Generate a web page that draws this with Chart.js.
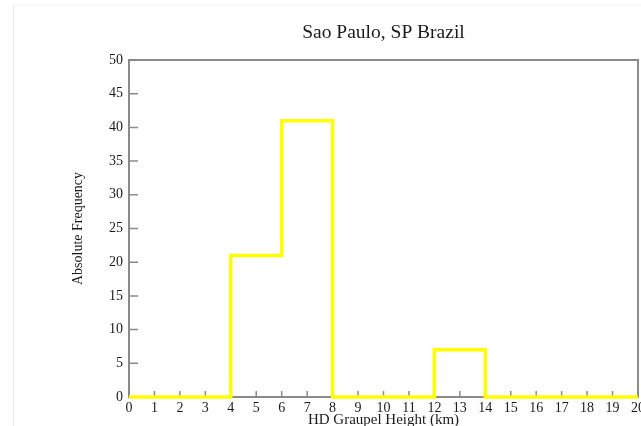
<!DOCTYPE html>
<html>
<head>
<meta charset="utf-8">
<script src="https://cdn.jsdelivr.net/npm/chart.js@4"></script>
<style>
  html, body { margin: 0; padding: 0; background: #fff; }
  #wrap { width: 641px; height: 426px; }
</style>
</head>
<body>
<div id="wrap"><canvas id="hist"></canvas></div>
<script>
// histogram data, bins are 2 km wide
const binEdges = [0, 2, 4, 6, 8, 10, 12, 14, 16, 18, 20]
const counts = [0, 0, 21, 41, 0, 0, 7, 0, 0, 0]
const yTicks = [0, 5, 10, 15, 20, 25, 30, 35, 40, 45, 50]

const chartTitle = 'Sao Paulo, SP Brazil'
const xTitle = 'HD Graupel Height (km)'
const yTitle = 'Absolute Frequency'

const serif = 'Liberation Serif'
const axisGrey = '#8a8a8a'

// step points: each bin starts at its left edge, last one closes at 20
let stepPoints = counts.map((c, i) => ({ x: binEdges[i], y: c }))
stepPoints.push({ x: binEdges[binEdges.length - 1], y: counts[counts.length - 1] })

const framePlugin = {
  id: 'frame',
  beforeDraw(chart) {
    const ctx = chart.ctx
    // faint page edge on the left
    ctx.save()
    ctx.strokeStyle = '#e8e8e8'
    ctx.lineWidth = 1
    ctx.beginPath()
    ctx.moveTo(13.5, 5)
    ctx.lineTo(13.5, 426)
    ctx.stroke()
    ctx.strokeStyle = '#f4f4f4'
    ctx.beginPath()
    ctx.moveTo(14, 4.5)
    ctx.lineTo(641, 4.5)
    ctx.stroke()
    ctx.restore()
  },
  beforeDatasetsDraw(chart) {
    const ctx = chart.ctx
    const a = chart.chartArea
    const xs = chart.scales.x
    const ys = chart.scales.y
    ctx.save()
    ctx.strokeStyle = axisGrey
    ctx.lineWidth = 2
    ctx.strokeRect(a.left, a.top, a.right - a.left, a.bottom - a.top)
    ctx.lineWidth = 1.5
    ctx.beginPath()
    // inward ticks
    xs.ticks.forEach(t => {
      const px = xs.getPixelForValue(t.value)
      ctx.moveTo(px, a.bottom)
      ctx.lineTo(px, a.bottom - 6)
    })
    ys.ticks.forEach(t => {
      const py = ys.getPixelForValue(t.value)
      ctx.moveTo(a.left, py)
      ctx.lineTo(a.left + 9, py)
    })
    ctx.stroke()
    ctx.restore()
  },
  afterDraw(chart) {
    const ctx = chart.ctx
    const a = chart.chartArea
    ctx.save()
    ctx.fillStyle = '#1a1a1a'
    ctx.font = '19.5px "' + serif + '"'
    ctx.textAlign = 'center'
    ctx.textBaseline = 'middle'
    ctx.fillText(chartTitle, (a.left + a.right) / 2, 33)
    ctx.restore()
  }
}

new Chart(document.getElementById('hist'), {
  type: 'line',
  data: {
    datasets: [{
      data: stepPoints,
      stepped: 'before',
      borderColor: '#ffff00',
      borderWidth: 3.5,
      pointRadius: 0,
      fill: false,
      clip: false
    }]
  },
  options: {
    responsive: true,
    maintainAspectRatio: false,
    animation: false,
    layout: { padding: { top: 60, right: 3, left: 0, bottom: 0 } },
    plugins: {
      legend: { display: false },
      tooltip: { enabled: false }
    },
    scales: {
      x: {
        type: 'linear',
        min: 0,
        max: 20,
        grid: { display: false, drawTicks: false },
        border: { display: false },
        ticks: {
          stepSize: 1,
          padding: 3,
          maxRotation: 0,
          autoSkip: false,
          color: '#1a1a1a',
          font: { family: serif, size: 14 }
        },
        title: {
          display: true,
          text: xTitle,
          color: '#1a1a1a',
          font: { family: serif, size: 15 },
          padding: { top: 0, bottom: -3 }
        },
        afterFit: s => { s.height = 29; s.paddingRight = 0; s.paddingLeft = 0 }
      },
      y: {
        min: 0,
        max: 50,
        afterBuildTicks: s => { s.ticks = yTicks.map(v => ({ value: v })) },
        grid: { display: false, drawTicks: false },
        border: { display: false },
        ticks: {
          padding: 6,
          color: '#1a1a1a',
          font: { family: serif, size: 14 }
        },
        title: {
          display: true,
          text: yTitle,
          color: '#1a1a1a',
          font: { family: serif, size: 14 },
          padding: { top: 70, bottom: 0 }
        },
        afterFit: s => { s.width = 129; s.paddingTop = 0; s.paddingBottom = 0 }
      }
    }
  },
  plugins: [framePlugin]
})
</script>
</body>
</html>
